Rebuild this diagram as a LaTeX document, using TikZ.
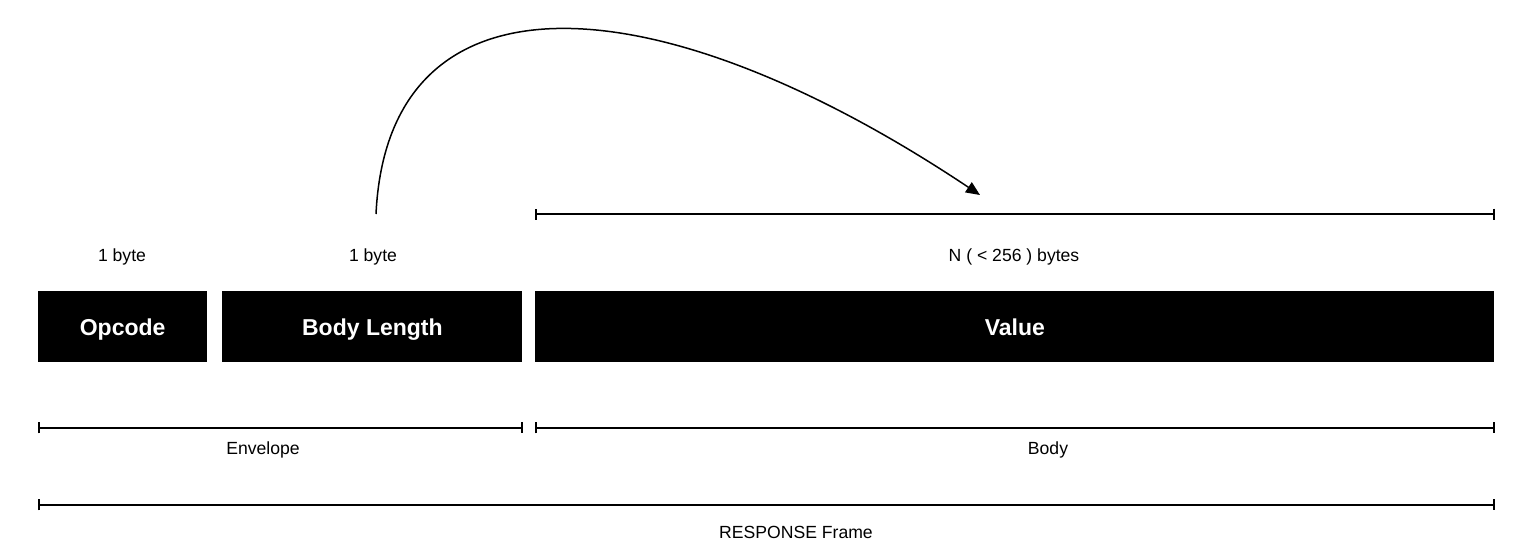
\documentclass[tikz,border=0pt]{standalone}
\usepackage{fontspec}
\setmainfont{Liberation Sans}
\usetikzlibrary{arrows.meta,positioning}

\begin{document}
\begin{tikzpicture}[x=0.5pt, y=-0.5pt,
    field/.style={fill=black, text=white, font=\fontsize{11.5}{14}\selectfont\bfseries,
      minimum height=35.5pt, inner sep=0pt, anchor=north west,
      text height=11.3pt, text depth=2.4pt},
    size/.style={font=\fontsize{8.8}{11}\selectfont, text height=8.9pt, text depth=1.9pt},
    span/.style={line width=1.05pt, {Bar[width=5.5pt]}-{Bar[width=5.5pt]}}]
  \useasboundingbox (0,0) rectangle (1528,558);
  % the three fields
  \node (Opcode) [field, minimum width=84.25pt] at (38,291) {Opcode};
  \node (BodyLength) [field, minimum width=150pt] at (222,291) {Body Length};
  \node (Value) [field, minimum width=479.5pt] at (535,291) {Value};
  \node (OpcodeSize) [size] at (122,254) {1 byte};
  \node (LengthSize) [size] at (373,254) {1 byte};
  \node (ValueSize) [size] at (1014,254) {N ( < 256 ) bytes};
  % spans
  \draw[span] ([yshift=38.5pt]Value.north west) -- ([yshift=38.5pt]Value.north east);
  \draw[span] ([yshift=-32.5pt]Opcode.south west) -- ([yshift=-32.5pt]BodyLength.south east);
  \draw[span] ([yshift=-32.5pt]Value.south west) -- ([yshift=-32.5pt]Value.south east);
  \draw[span] ([yshift=-71pt]Opcode.south west) -- ([yshift=-71pt]Value.south east);
  \node (Envelope) [size] at (263,447) {Envelope};
  \node (Body) [size] at (1048,447) {Body};
  \node (Frame) [size] at (796,531) {RESPONSE Frame};
  % length points at the value
  \coordinate (lenSrc) at (376,214);
  \coordinate (lenDst) at (980,195);
  \draw[line width=0.75pt, -{Triangle[length=7pt, width=6pt]}]
    (lenSrc) .. controls (388,-36) and (655,-22) .. (lenDst);
\end{tikzpicture}
\end{document}
